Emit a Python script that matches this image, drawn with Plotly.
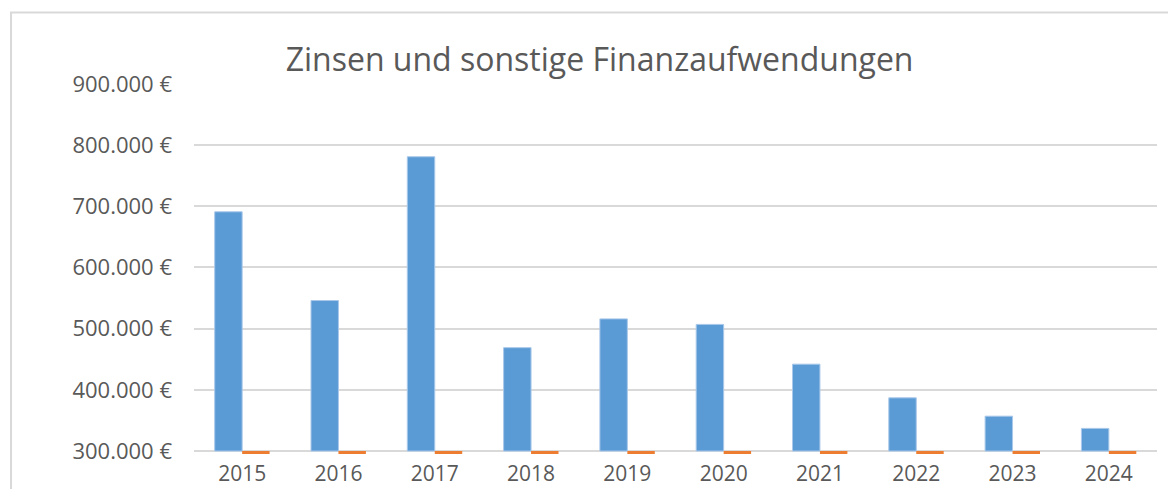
import plotly.graph_objects as go

years = ["2015", "2016", "2017", "2018", "2019", "2020", "2021", "2022", "2023", "2024"]
zinsen = [691000, 546000, 781000, 469000, 516000, 507000, 442000, 387000, 357000, 337000]
sonstige = [0, 0, 0, 0, 0, 0, 0, 0, 0, 0]
y_ticks = [300000, 400000, 500000, 600000, 700000, 800000, 900000]
y_labels = ["300.000 €", "400.000 €", "500.000 €", "600.000 €", "700.000 €", "800.000 €", "900.000 €"]

AXIS_MIN = 300000

fig = go.Figure()
fig.add_trace(go.Bar(
    x=years, y=[v - AXIS_MIN for v in zinsen], base=AXIS_MIN,
    marker=dict(color="#5B9BD5", line=dict(color="#A9C8EA", width=1)),
    name="Zinsen", showlegend=False, hoverinfo="skip"))
fig.add_trace(go.Bar(
    x=years, y=[v - AXIS_MIN for v in sonstige], base=AXIS_MIN,
    marker=dict(color="#ED7D31", line=dict(width=0)),
    name="Sonstige", showlegend=False, hoverinfo="skip"))

fig.update_layout(
    width=1168, height=481,
    margin=dict(l=186, r=19, t=75, b=35),
    paper_bgcolor="white", plot_bgcolor="white",
    barmode="group", bargap=0.43, bargroupgap=0,
    font=dict(family="Open Sans", color="#595959"),
    title=dict(text="Zinsen und sonstige Finanzaufwendungen",
               font=dict(family="Open Sans", size=32, color="#595959"),
               x=0.5065, xanchor="center", xref="container",
               y=0.892, yanchor="middle", yref="container"),
    xaxis=dict(showgrid=False, showline=False, zeroline=False, ticks="",
               automargin=False,
               tickfont=dict(size=21, color="#595959"), ticklabelstandoff=5),
    yaxis=dict(range=[295200, 901500], tickvals=y_ticks, ticktext=y_labels,
               showgrid=True, gridcolor="#D9D9D9", gridwidth=2,
               zeroline=False, showline=False, ticks="", automargin=False,
               tickfont=dict(size=22, color="#595959"), ticklabelstandoff=21),
    shapes=[dict(type="rect", xref="paper", yref="paper",
                 x0=-0.19, x1=1.04, y0=-0.2, y1=1.19,
                 line=dict(color="#D9D9D9", width=2), fillcolor="rgba(0,0,0,0)",
                 layer="below")],
)

fig.write_html("out.html")
